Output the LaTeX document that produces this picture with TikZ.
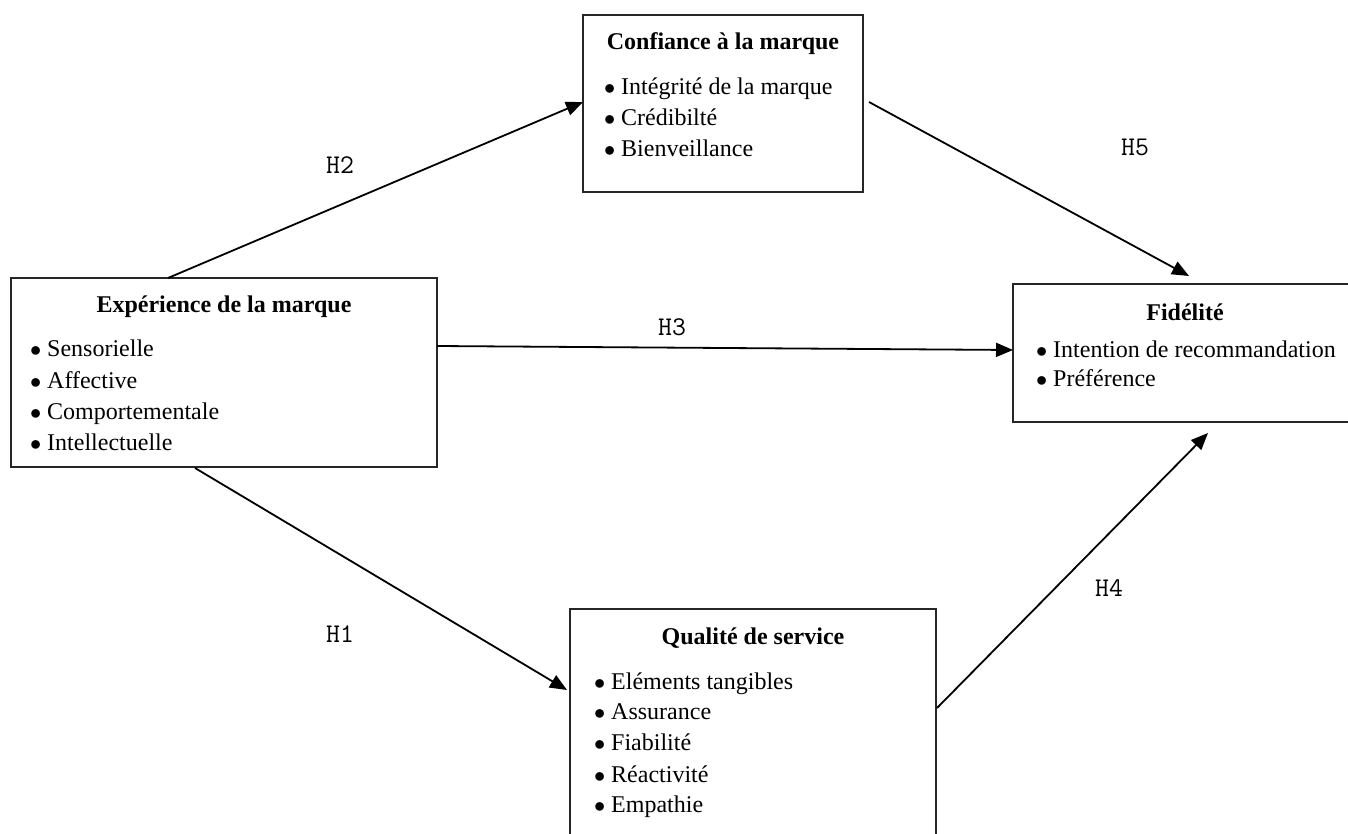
\documentclass[tikz,border=0pt]{standalone}
\usepackage{fontspec}
\setmainfont{Liberation Serif}
\usetikzlibrary{arrows.meta}
\newcommand{\bul}{\makebox[17pt][l]{\raisebox{0pt}{\scalebox{0.9}{$\bullet$}}}}
\begin{document}
\begin{tikzpicture}[x=1pt,y=-1pt,
  box/.style={draw=black!85,line width=1.3pt,fill=none},
  ttl/.style={anchor=base,inner sep=0pt,font=\fontsize{24}{30}\selectfont\bfseries},
  item/.style={anchor=base west,inner sep=0pt,font=\fontsize{24}{30}\selectfont},
  hlab/.style={anchor=base,inner sep=0pt,font=\fontsize{27}{30}\ttfamily},
  arr/.style={line width=1.8pt,-{Triangle[length=17pt,width=14pt]}}]
\useasboundingbox[fill=white] (0,0) rectangle (1348,834);

% boxes
\draw[box] (583,15) rectangle (863,192);
\node[inner sep=0pt] (conf) at (723,103.5) {};
\draw[box] (11,278) rectangle (437,467);
\node[inner sep=0pt] (exp) at (224,372.5) {};
\draw[box] (1013,284) rectangle (1356,422);
\node[inner sep=0pt] (fid) at (1180,353) {};
\draw[box] (570,609) rectangle (936,845);
\node[inner sep=0pt] (qual) at (753,720) {};

% Confiance
\node[ttl] (confT) at (723,50) {Confiance à la marque};
\node[item] (conf1) at (604,95) {\bul Intégrité de la marque};
\node[item] (conf2) at (604,126) {\bul Crédibilté};
\node[item] (conf3) at (604,157) {\bul Bienveillance};

% Experience
\node[ttl] (expT) at (224,312) {Expérience de la marque};
\node[item] (exp1) at (30,356) {\bul Sensorielle};
\node[item] (exp2) at (30,388) {\bul Affective};
\node[item] (exp3) at (30,419) {\bul Comportementale};
\node[item] (exp4) at (30,450) {\bul Intellectuelle};

% Fidelite
\node[ttl] (fidT) at (1185,320) {Fidélité};
\node[item] (fid1) at (1036,357) {\bul Intention de recommandation};
\node[item] (fid2) at (1036,386) {\bul Préférence};

% Qualite
\node[ttl] (qualT) at (753,644) {Qualité de service};
\node[item] (qual1) at (594,689) {\bul Eléments tangibles};
\node[item] (qual2) at (594,719) {\bul Assurance};
\node[item] (qual3) at (594,750) {\bul Fiabilité};
\node[item] (qual4) at (594,782) {\bul Réactivité};
\node[item] (qual5) at (594,812) {\bul Empathie};

% connector end points
\coordinate (h2s) at (168,278);
\coordinate (h2e) at (583,102);
\coordinate (h5s) at (869,102);
\coordinate (h5e) at (1189,276);
\coordinate (h3s) at (437,346);
\coordinate (h3e) at (1013,350);
\coordinate (h1s) at (195,468);
\coordinate (h1e) at (567,690);
\coordinate (h4s) at (937,708);
\coordinate (h4e) at (1208,433);

\draw[arr] (h2s) -- (h2e);
\draw[arr] (h5s) -- (h5e);
\draw[arr] (h3s) -- (h3e);
\draw[arr] (h1s) -- (h1e);
\draw[arr] (h4s) -- (h4e);

% labels
\node[hlab] (lh2) at (340,174) {H2};
\node[hlab] (lh5) at (1135,156) {H5};
\node[hlab] (lh3) at (672,335) {H3};
\node[hlab] (lh1) at (340,642) {H1};
\node[hlab] (lh4) at (1109,596) {H4};
\end{tikzpicture}
\end{document}
